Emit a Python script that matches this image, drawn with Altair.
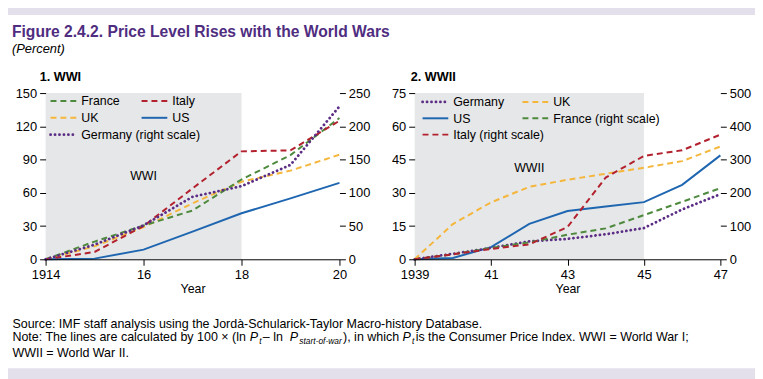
import altair as alt
import pandas as pd

# ---------------- data ----------------
wwi_years = [1914, 1915, 1916, 1917, 1918, 1919, 1920]
wwi_france = [0, 16, 30.5, 44, 72, 94, 127.5]
wwi_italy = [0, 6.6, 30, 64, 97.4, 98.3, 125]
wwi_uk = [0, 11.7, 29, 50.5, 70, 80, 94.4]
wwi_us = [0, 0.6, 8.7, 25, 41.5, 55, 69]
wwi_germany = [0, 22, 51, 94, 110, 142, 230]          # right scale

wwii_years = [1939, 1940, 1941, 1942, 1943, 1944, 1945, 1946, 1947]
wwii_germany = [0, 2.5, 5.1, 8.1, 9.2, 11.3, 14.1, 22.5, 29.4]
wwii_us = [0, 0.6, 5.5, 16, 21.8, 23.8, 25.8, 33.6, 46.9]
wwii_uk = [0, 15.9, 25.7, 32.7, 35.9, 38.6, 41.3, 44.3, 50.9]
wwii_france = [0, 15, 34, 51, 74, 93, 133, 173, 214]  # right scale
wwii_italy = [0, 15, 31, 45, 97, 246, 311, 328, 375]  # right scale

war1_span = [1914, 1918]
war2_span = [1939, 1945]

legend1_labels = ["France", "Italy", "UK", "US", "Germany (right scale)"]
legend2_labels = ["Germany", "UK", "US", "France (right scale)", "Italy (right scale)"]

wwi_xticks = [1914, 1916, 1918, 1920]
wwii_xticks = [1939, 1941, 1943, 1945, 1947]
wwi_left_ticks = [0, 30, 60, 90, 120, 150]
wwi_right_ticks = [0, 50, 100, 150, 200, 250]
wwii_left_ticks = [0, 15, 30, 45, 60, 75]
wwii_right_ticks = [0, 100, 200, 300, 400, 500]

title_text = "Figure 2.4.2. Price Level Rises with the World Wars"
subtitle_text = "(Percent)"
source_text = "Source: IMF staff analysis using the Jordà-Schularick-Taylor Macro-history Database."
note_pieces = [
    ("Note: The lines are calculated by 100 \u00d7 (ln ", "normal", False),
    ("P", "italic", False), ("t", "italic", True),
    (" \u2013 ln ", "normal", False),
    ("P", "italic", False), ("start-of-war", "italic", True),
    ("), in which ", "normal", False),
    ("P", "italic", False), ("t", "italic", True),
    (" is the Consumer Price Index. WWI = World War I;", "normal", False),
]
last_line_text = "WWII = World War II."

# ---------------- styling / layout ----------------
W, H = 755, 371
FONT = "Liberation Sans, Arial, sans-serif"
PURPLE_T = "#4f2d7f"
LAV = "#e3dfeb"
SHADE = "#e6e7e8"

STY = {
    "France": dict(color="#4e8a3e", strokeDash=[6, 4], strokeWidth=2),
    "Italy": dict(color="#b3202e", strokeDash=[6, 4], strokeWidth=2),
    "UK": dict(color="#f5b63c", strokeDash=[6, 4], strokeWidth=2),
    "US": dict(color="#1f66b1", strokeWidth=2),
    "Germany": dict(color="#5b2d85", strokeDash=[0.1, 4.4], strokeWidth=2.8, strokeCap="round"),
}

P1_X = [38, 335]
P2_X = [411, 720]
Y_R = [252, 84]
BASE = pd.DataFrame({"k": [0]})

# Arial / Liberation Sans advance widths (1/1000 em), used to chain the note's pieces
_AW = {" ": 278, "(": 333, ")": 333, ",": 278, "-": 333, ".": 278, ":": 278, ";": 278,
       "=": 584, "\u00d7": 584, "\u2013": 556, "0": 556, "1": 556,
       "C": 722, "I": 278, "N": 722, "P": 667, "T": 611, "W": 944,
       "a": 556, "b": 556, "c": 500, "d": 556, "e": 556, "f": 278, "g": 556, "h": 556,
       "i": 222, "l": 222, "m": 833, "n": 556, "o": 556, "p": 556, "r": 333, "s": 500,
       "t": 278, "u": 556, "w": 722, "x": 500, "y": 500}


def tw(s, size):
    return sum(_AW.get(ch, 556) for ch in s) * size / 1000.0


def xscale(dom, rng):
    return alt.Scale(domain=dom, range=rng, nice=False, zero=False)


def yscale(dom):
    return alt.Scale(domain=dom, range=Y_R, nice=False, zero=False)


def x_axis(ticks):
    first = ticks[0]
    return alt.Axis(orient="bottom", offset=-(H - Y_R[0]), values=ticks, zindex=2,
                    labelExpr=f"datum.value == {first} ? '{first}' : substring(toString(datum.value), 2)",
                    title="Year", titleFont=FONT, titleFontSize=12.5, titleFontWeight="normal",
                    titleColor="#000", titlePadding=2,
                    labelFont=FONT, labelFontSize=13, labelColor="#000", labelPadding=3,
                    labelFlush=False, labelOverlap=False,
                    tickSize=6, tickColor="#000", domainColor="#000", grid=False)


def y_axis(ticks, orient, offset):
    return alt.Axis(orient=orient, offset=offset, values=ticks, title=None, domain=False, zindex=2,
                    labelFont=FONT, labelFontSize=13, labelColor="#000",
                    labelPadding=3, tickSize=6, tickColor="#000", grid=False,
                    labelOverlap=False, labelFlush=False)


def series(years, vals, xdom, xr, ydom, name, xax=None, yax=None):
    df = pd.DataFrame({"year": years, "value": vals})
    return alt.Chart(df).mark_line(**STY[name]).encode(
        x=alt.X("year:Q", scale=xscale(xdom, xr), axis=xax),
        y=alt.Y("value:Q", scale=yscale(ydom), axis=yax),
    )


def shade(span, xdom, xr):
    df = pd.DataFrame({"start": [span[0]], "end": [span[1]]})
    return alt.Chart(df).mark_rect(color=SHADE).encode(
        x=alt.X("start:Q", scale=xscale(xdom, xr), axis=None),
        x2="end:Q",
        y=alt.value(Y_R[1]), y2=alt.value(Y_R[0]),
    )


def label_in_plot(text, year, val, xdom, xr, ydom):
    df = pd.DataFrame({"year": [year], "value": [val], "t": [text]})
    return alt.Chart(df).mark_text(font=FONT, fontSize=12.5, color="#000").encode(
        x=alt.X("year:Q", scale=xscale(xdom, xr), axis=None),
        y=alt.Y("value:Q", scale=yscale(ydom), axis=None),
        text="t:N",
    )


def text_at(text, x, y, size, weight="normal", style="normal", color="#000"):
    df = pd.DataFrame({"t": [text]})
    return alt.Chart(df).mark_text(font=FONT, fontSize=size, fontWeight=weight, fontStyle=style,
                                   color=color, align="left", baseline="alphabetic").encode(
        x=alt.value(x), y=alt.value(y), text="t:N")


def legend(labels, col_x, row_y, text_dx):
    out = []
    for i, lab in enumerate(labels):
        c, r = i % 2, i // 2
        if r == 2:
            c = 0
        key = lab.split(" ")[0]
        sx, sy = col_x[c], row_y[r]
        out.append(alt.Chart(BASE).mark_rule(**STY[key]).encode(
            x=alt.value(sx), x2=alt.value(sx + 26), y=alt.value(sy)))
        df = pd.DataFrame({"t": [lab]})
        out.append(alt.Chart(df).mark_text(font=FONT, fontSize=12.5, color="#000",
                                           align="left", baseline="middle").encode(
            x=alt.value(sx + text_dx), y=alt.value(sy + 0.5), text="t:N"))
    return out


D1 = [1914, 1920]
D2 = [1939, 1947]

layers = []
# page frame
layers.append(alt.Chart(BASE).mark_rect(color="white").encode(
    x=alt.value(0), x2=alt.value(W), y=alt.value(5), y2=alt.value(362)))

# ---- panel 1 ----
layers.append(shade(war1_span, D1, P1_X))
layers.append(label_in_plot("WWI", 1916, 75, D1, P1_X, [0, 150]))
layers.append(series(wwi_years, wwi_us, D1, P1_X, [0, 150], "US",
                     xax=x_axis(wwi_xticks), yax=y_axis(wwi_left_ticks, "left", -P1_X[0])))
layers.append(series(wwi_years, wwi_uk, D1, P1_X, [0, 150], "UK"))
layers.append(series(wwi_years, wwi_france, D1, P1_X, [0, 150], "France"))
layers.append(series(wwi_years, wwi_italy, D1, P1_X, [0, 150], "Italy"))
layers.append(series(wwi_years, wwi_germany, D1, P1_X, [0, 250], "Germany",
                     yax=y_axis(wwi_right_ticks, "right", -(W - P1_X[1]))))
layers += legend(legend1_labels, [43, 135], [92, 109, 126], 31)

# ---- panel 2 ----
layers.append(shade(war2_span, D2, P2_X))
layers.append(label_in_plot("WWII", 1942, 41, D2, P2_X, [0, 75]))
layers.append(series(wwii_years, wwii_us, D2, P2_X, [0, 75], "US",
                     xax=x_axis(wwii_xticks), yax=y_axis(wwii_left_ticks, "left", -P2_X[0])))
layers.append(series(wwii_years, wwii_uk, D2, P2_X, [0, 75], "UK"))
layers.append(series(wwii_years, wwii_germany, D2, P2_X, [0, 75], "Germany"))
layers.append(series(wwii_years, wwii_france, D2, P2_X, [0, 500], "France",
                     yax=y_axis(wwii_right_ticks, "right", -(W - P2_X[1]))))
layers.append(series(wwii_years, wwii_italy, D2, P2_X, [0, 500], "Italy"))
layers += legend(legend2_labels, [419, 520], [93, 109.5, 126], 31)

# ---- titles ----
layers.append(text_at(title_text, 4, 27, 15.8, weight="bold", color=PURPLE_T))
layers.append(text_at(subtitle_text, 4, 44, 13, style="italic"))
layers.append(text_at("1. WWI", 32, 72, 12.8, weight="bold"))
layers.append(text_at("2. WWII", 407, 72, 12.8, weight="bold"))

# ---- footnotes ----
FS = 12.6
SUB = 8.5
layers.append(text_at(source_text, 4.5, 321, FS))
note_y = 335
cx = 4.5
for txt, sty, is_sub in note_pieces:
    size = SUB if is_sub else FS
    layers.append(text_at(txt, cx, note_y + (2.5 if is_sub else 0), size, style=sty))
    cx += tw(txt, size) + (1.2 if sty == "italic" else 0)
layers.append(text_at(last_line_text, 4.5, 351, FS))

chart = alt.layer(*layers).resolve_scale(x="independent", y="independent").properties(
    width=W, height=H,
    autosize=alt.AutoSizeParams(type="none"),
    padding={"left": 0, "top": 0, "right": 0, "bottom": 0},
    background=LAV,
).configure_view(stroke=None)

chart.save("out.html", embed_options={"renderer": "svg", "actions": False})
